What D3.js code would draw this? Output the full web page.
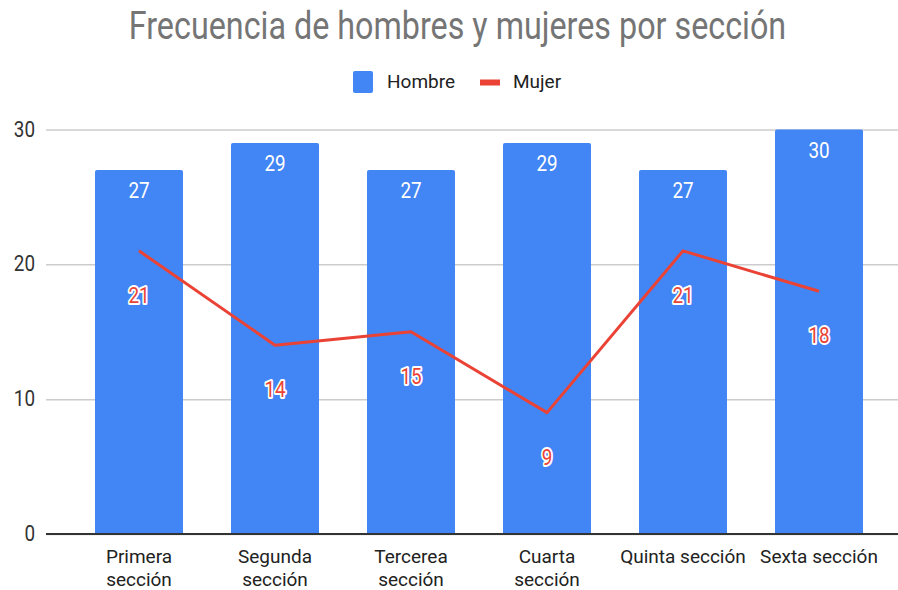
<!DOCTYPE html>
<html>
<head>
<meta charset="utf-8">
<script src="https://cdn.jsdelivr.net/npm/d3@7"></script>
<style>
  body { margin: 0; background: #fff; }
  text { font-family: Roboto, "Liberation Sans", Arial, sans-serif; }
</style>
</head>
<body>
<div id="chart"></div>
<script>
// chart data
var secciones = [["Primera", "sección"], ["Segunda", "sección"], ["Tercerea", "sección"],
                 ["Cuarta", "sección"], ["Quinta sección"], ["Sexta sección"]];
var hombres = [27, 29, 27, 29, 27, 30];
var mujeres = [21, 14, 15, 9, 21, 18];
var yTicks = [0, 10, 20, 30];

var width = 898, height = 590;
var blue = "#4285f4", red = "#ea4335";
var narrow = 0.84; // some texts in the original are tall and narrow

var svg = d3.select("#chart").append("svg")
	.attr("width", width)
	.attr("height", height);

// scales
var x = d3.scaleBand()
	.domain(d3.range(secciones.length))
	.range([71, 887])
	.paddingInner(0.353)
	.paddingOuter(0.1765);

var y = d3.scaleLinear()
	.domain([0, 30])
	.range([534, 129.5]);

function cx(i) { return x(i) + x.bandwidth() / 2; }

// title
svg.append("text")
	.attr("transform", "translate(457.5,39) scale(0.85,1)")
	.attr("text-anchor", "middle")
	.attr("font-size", 38)
	.attr("fill", "#757575")
	.text("Frecuencia de hombres y mujeres por sección");

// legend
var legend = svg.append("g");
legend.append("rect")
	.attr("x", 353).attr("y", 71)
	.attr("width", 20).attr("height", 22)
	.attr("rx", 2)
	.attr("fill", blue);
legend.append("text")
	.attr("x", 387).attr("y", 88)
	.attr("font-size", 19)
	.attr("fill", "#222")
	.text("Hombre");
legend.append("rect")
	.attr("x", 480).attr("y", 79.5)
	.attr("width", 20).attr("height", 6)
	.attr("fill", red);
legend.append("text")
	.attr("x", 513).attr("y", 88)
	.attr("font-size", 19)
	.attr("fill", "#222")
	.text("Mujer");

// gridlines + y labels
var yAxis = d3.axisLeft(y)
	.tickValues(yTicks)
	.tickSize(-(width - 46))
	.tickPadding(13)
	.tickFormat(d3.format("d"));

var gy = svg.append("g")
	.attr("transform", "translate(46,0)")
	.call(yAxis);
gy.select(".domain").remove();
gy.selectAll(".tick line")
	.attr("stroke", "#cccccc")
	.attr("stroke-width", 1.5);
gy.selectAll(".tick text")
	.attr("font-size", 22.5)
	.attr("fill", "#333")
	.attr("font-family", "Roboto, sans-serif")
	.attr("dy", "0.29em")
	.attr("transform", "scale(" + narrow + ",1)");

// bars
svg.selectAll("path.bar")
	.data(hombres)
	.enter().append("path")
	.attr("class", "bar")
	.attr("fill", blue)
	.attr("d", function(d, i) {
		var x0 = x(i), w = x.bandwidth(), top = y(d), bot = y(0), r = 2;
		return "M" + x0 + "," + bot + "V" + (top + r) +
			"Q" + x0 + "," + top + " " + (x0 + r) + "," + top +
			"H" + (x0 + w - r) +
			"Q" + (x0 + w) + "," + top + " " + (x0 + w) + "," + (top + r) +
			"V" + bot + "Z";
	});

// baseline
svg.append("line")
	.attr("x1", 46).attr("x2", width)
	.attr("y1", y(0)).attr("y2", y(0))
	.attr("stroke", "#333")
	.attr("stroke-width", 2);

// bar value labels
svg.selectAll("text.hval")
	.data(hombres)
	.enter().append("text")
	.attr("class", "hval")
	.attr("transform", function(d, i) {
		return "translate(" + cx(i) + "," + (y(d) + 28) + ") scale(" + narrow + ",1)";
	})
	.attr("text-anchor", "middle")
	.attr("font-size", 22.5)
	.attr("fill", "#fff")
	.text(function(d) { return d; });

// mujer line
var line = d3.line()
	.x(function(d, i) { return cx(i); })
	.y(function(d) { return y(d); });

svg.append("path")
	.datum(mujeres)
	.attr("d", line)
	.attr("fill", "none")
	.attr("stroke", red)
	.attr("stroke-width", 3)
	.attr("stroke-linejoin", "round");

// mujer labels
svg.selectAll("text.mval")
	.data(mujeres)
	.enter().append("text")
	.attr("class", "mval")
	.attr("transform", function(d, i) {
		return "translate(" + cx(i) + "," + (y(d) + 52) + ") scale(" + narrow + ",1)";
	})
	.attr("text-anchor", "middle")
	.attr("font-size", 22.5)
	.attr("fill", red)
	.attr("stroke", "#fff")
	.attr("stroke-width", 4)
	.attr("stroke-linejoin", "round")
	.attr("paint-order", "stroke")
	.text(function(d) { return d; });

// x labels
var xl = svg.selectAll("text.xlab")
	.data(secciones)
	.enter().append("text")
	.attr("class", "xlab")
	.attr("text-anchor", "middle")
	.attr("font-size", 19)
	.attr("fill", "#222")
	.attr("transform", function(d, i) {
		return "translate(" + cx(i) + ",563)";
	});
xl.selectAll("tspan")
	.data(function(d) { return d; })
	.enter().append("tspan")
	.attr("x", 0)
	.attr("dy", function(d, j) { return j ? 23 : 0; })
	.text(function(d) { return d; });
</script>
</body>
</html>
